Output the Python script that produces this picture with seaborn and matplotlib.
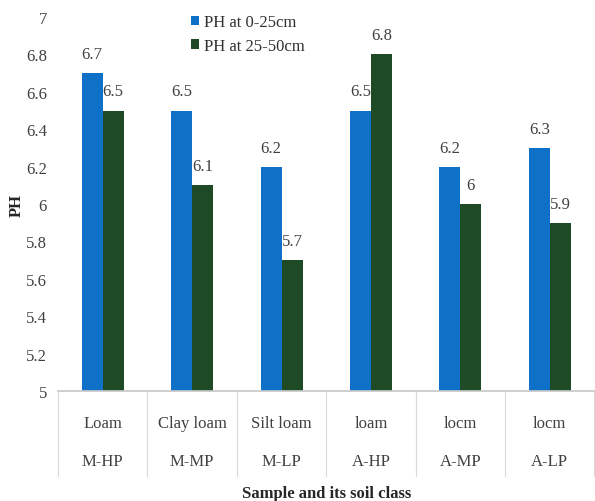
import matplotlib
matplotlib.use("Agg")
import matplotlib.pyplot as plt
import seaborn as sns
import pandas as pd

soil = ["Loam", "Clay loam", "Silt loam", "loam", "locm", "locm"]
samples = ["M-HP", "M-MP", "M-LP", "A-HP", "A-MP", "A-LP"]
ph_0_25 = [6.7, 6.5, 6.2, 6.5, 6.2, 6.3]
ph_25_50 = [6.5, 6.1, 5.7, 6.8, 6.0, 5.9]
series = ["PH at 0-25cm", "PH at 25-50cm"]
yticks = [5, 5.2, 5.4, 5.6, 5.8, 6, 6.2, 6.4, 6.6, 6.8, 7]

sns.set_theme(style="white")
plt.rcParams["font.family"] = ["Liberation Serif", "DejaVu Serif"]

df = pd.DataFrame({
    "sample": samples * 2,
    "series": [series[0]] * 6 + [series[1]] * 6,
    "ph": ph_0_25 + ph_25_50,
})

fig = plt.figure(figsize=(5.95, 5.02), dpi=100)
ax = fig.add_axes([0.0975, 0.219, 0.9015, 0.745])

sns.barplot(data=df, x="sample", y="ph", hue="series", order=samples,
            hue_order=series, palette=["#0F70C8", "#1E4A26"], width=0.47,
            gap=0, saturation=1, ax=ax, errorbar=None, legend=True,
            linewidth=0, edgecolor="none")

ax.set_ylim(5, 7)
ax.set_yticks(yticks)
ax.set_yticklabels([f"{v:g}" for v in yticks], fontsize=12, color="#404040")
ax.set_xlim(-0.5, 5.5)
ax.set_xticks(range(6))
ax.set_xticklabels([f"{s}\n{c}" for s, c in zip(soil, samples)],
                   fontsize=12, color="#404040", linespacing=2.9)
ax.tick_params(axis="x", length=0, pad=17)
ax.tick_params(axis="y", length=0, pad=8)

for c in ax.containers:
    ax.bar_label(c, fmt="%g", padding=8, fontsize=12, color="#404040")

for side in ["top", "right", "left"]:
    ax.spines[side].set_visible(False)
ax.spines["bottom"].set_color("#c8c8c8")

trans = ax.get_xaxis_transform()
for i in range(7):
    x = -0.5 + i
    ax.plot([x, x], [0, -0.227], transform=trans, color="#d9d9d9",
            lw=0.8, clip_on=False)

ax.set_xlabel("Sample and its soil class", fontsize=12, fontweight="bold",
              labelpad=11)
ax.set_ylabel("PH", fontsize=12, fontweight="bold", labelpad=1)

leg = ax.legend(loc="upper left", bbox_to_anchor=(0.235, 1.025), frameon=False,
                fontsize=12, handlelength=0.5, handleheight=0.5,
                handletextpad=0.3, labelspacing=0.45, borderaxespad=0)
for t in leg.get_texts():
    t.set_color("#303030")

fig.savefig("out.png", dpi=100)
